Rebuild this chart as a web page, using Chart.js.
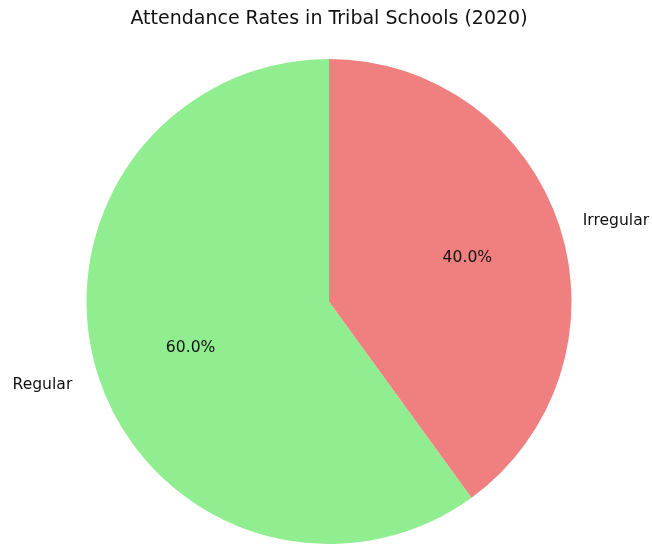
<!DOCTYPE html>
<html>
<head>
<meta charset="utf-8">
<script src="https://cdn.jsdelivr.net/npm/chart.js@4/dist/chart.umd.min.js"></script>
<style>
html,body{margin:0;padding:0;background:#fff;}
#wrap{width:652px;height:544px;position:relative;}
</style>
</head>
<body>
<div id="wrap"><canvas id="c" width="652" height="544"></canvas></div>
<script>
const categories = ["Regular", "Irregular"];
const values = [60, 40];
const colors = ["#90EE90", "#F08080"];
const titleText = "Attendance Rates in Tribal Schools (2020)";

const labelPlugin = {
  id: 'pieLabels',
  afterDatasetsDraw(chart) {
    const ctx = chart.ctx;
    const meta = chart.getDatasetMeta(0);
    const total = values.reduce((a, b) => a + b, 0);
    ctx.save();
    ctx.fillStyle = '#111';
    ctx.textBaseline = 'middle';
    meta.data.forEach((arc, i) => {
      const p = arc.getProps(['x', 'y', 'startAngle', 'endAngle', 'outerRadius'], true);
      const mid = (p.startAngle + p.endAngle) / 2;
      const c = Math.cos(mid), s = Math.sin(mid);
      ctx.font = '15.6px "DejaVu Sans"';
      ctx.textAlign = c < 0 ? 'right' : 'left';
      const lx = p.x + c * p.outerRadius * 1.1 + (c < 0 ? -3 : 0);
      ctx.fillText(categories[i], lx, p.y + s * p.outerRadius * 1.1 + 1.5);
      ctx.textAlign = 'center';
      ctx.fillText((values[i] / total * 100).toFixed(1) + '%', p.x + c * p.outerRadius * 0.6, p.y + s * p.outerRadius * 0.6 + 1.5);
    });
    ctx.restore();
  }
};

new Chart(document.getElementById('c'), {
  type: 'pie',
  data: {
    labels: categories,
    datasets: [{
      data: values,
      backgroundColor: colors,
      borderWidth: 0,
      hoverOffset: 0
    }]
  },
  options: {
    responsive: false,
    animation: false,
    rotation: 144,
    layout: { padding: { left: 86.5, right: 80.5, top: 0, bottom: 0 } },
    plugins: {
      legend: { display: false },
      tooltip: { enabled: false },
      title: {
        display: true,
        text: titleText,
        color: '#111',
        font: { family: 'DejaVu Sans', size: 19, weight: 'normal', lineHeight: 1.2 },
        padding: { top: 7.6, bottom: 28.6 }
      }
    }
  },
  plugins: [labelPlugin]
});
</script>
</body>
</html>
